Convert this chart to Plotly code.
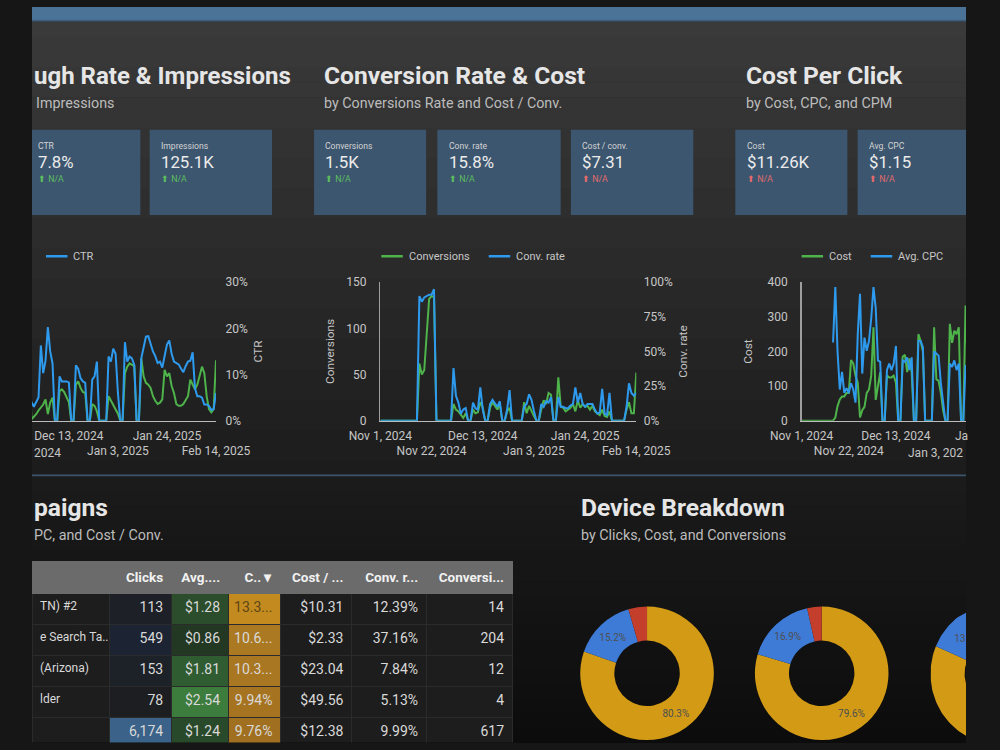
import math
import pandas as pd
import plotly.graph_objects as go

# ---------------- canvas helpers ----------------
W, H = 1000, 750


def fx(p):
    return min(max(p, 0), W) / W


def fy(p):
    return 1 - min(max(p, 0), H) / H


# ---------------- data ----------------
dates = pd.date_range("2024-11-01", "2025-02-14", freq="D")

impressions = [
    0, 0, 0, 0, 0, 0, 0, 0, 0, 0,
    0, 0, 0, 0, 1200, 1800, 2400, 2600, 2500, 3000,
    3200, 3100, 3300, 2900, 2600, 2200, 60, 160, 280, 440,
    560, 700, 920, 280, 780, 1000, 0, 0, 1280, 1360,
    1240, 1000, 800, 0, 0, 1560, 1700, 1420, 1240, 1200,
    0, 0, 720, 640, 400, 0, 0, 0, 0, 1060,
    860, 720, 500, 300, 0, 0, 2060, 2340, 2480, 2420,
    2360, 0, 0, 2700, 1920, 1640, 1560, 1420, 1060, 860,
    720, 780, 920, 2200, 1920, 2060, 1500, 1200, 720, 640,
    640, 720, 920, 1060, 1780, 1560, 1360, 1560, 1920, 2340,
    2060, 1060, 500, 360, 500, 2620,
]

ctr_pct = [
    0, 0, 0, 0, 0, 0, 0, 0, 0, 0,
    0, 0, 0, 0, 3.5, 3.8, 3.2, 3.0, 3.1, 4.5,
    4.6, 4.8, 4.4, 3.2, 3.0, 3.4, 4.0, 3.0, 4.0, 5.0,
    16.3, 10.3, 13.0, 20.3, 15.0, 12.4, 0, 0, 9.6, 8.5,
    8.5, 8.5, 8.3, 0, 0, 12.0, 11.2, 9.2, 8.5, 8.2,
    0, 0, 8.9, 9.6, 12.8, 0, 0, 0, 0, 13.9,
    12.8, 15.6, 14.5, 6.0, 0, 0, 17.0, 12.8, 13.9, 13.5,
    12.1, 0, 0, 13.5, 16.3, 18.2, 18.3, 16.5, 15.0, 14.0,
    12.5, 12.8, 11.5, 14.0, 16.5, 17.4, 14.5, 12.8, 12.5, 12.2,
    11.3, 10.5, 11.8, 12.8, 13.0, 14.8, 7.0, 5.3, 5.3, 5.0,
    3.5, 3.5, 3.2, 2.3, 2.5, 6.0,
]

conversions = [
    0, 0, 0, 0, 0, 0, 0, 0, 0, 0,
    0, 0, 0, 0, 0, 0, 62, 50, 55, 100,
    132, 135, 134, 0, 0, 0, 0, 0, 0, 0,
    18, 12, 10, 6, 3, 8, 0, 0, 12, 8,
    9, 20, 14, 0, 0, 14, 20, 16, 12, 18,
    0, 0, 10, 14, 0, 0, 0, 0, 0, 20,
    8, 16, 10, 5, 0, 0, 12, 22, 18, 30,
    28, 0, 0, 47, 15, 14, 10, 12, 14, 18,
    10, 22, 14, 18, 15, 16, 12, 16, 10, 8,
    6, 12, 5, 4, 10, 0, 0, 0, 0, 0,
    0, 12, 20, 8, 8, 52,
]

conv_rate_pct = [
    0, 0, 0, 0, 0, 0, 0, 0, 0, 0,
    0, 0, 0, 0, 0, 0, 90, 86, 89, 90,
    91, 91, 95, 0, 0, 0, 0, 0, 0, 0,
    38, 18, 13, 5, 8, 9, 0, 0, 13, 9,
    8, 24, 8, 0, 0, 12, 15, 12, 10, 14,
    0, 0, 8, 22, 0, 0, 0, 0, 0, 10,
    12, 19, 15, 7, 0, 0, 12, 10, 14, 13,
    17, 0, 0, 17, 10, 10, 9, 9, 11, 12,
    24, 13, 20, 12, 10, 12, 12, 12, 8, 5,
    6, 23, 5, 4, 20, 0, 0, 0, 0, 0,
    0, 10, 27, 20, 18, 20,
]

cost = [
    0, 0, 0, 0, 0, 0, 0, 0, 0, 0,
    0, 0, 0, 0, 0, 9, 42, 61, 70, 70,
    80, 80, 175, 165, 130, 110, 9, 30, 40, 80,
    90, 130, 270, 60, 100, 140, 0, 0, 130, 125,
    125, 130, 110, 0, 0, 185, 190, 140, 180, 140,
    0, 0, 250, 230, 200, 0, 0, 0, 0, 270,
    120, 115, 80, 30, 0, 0, 280, 225, 260, 250,
    270, 0, 0, 333, 150, 120, 135, 160, 170, 140,
    150, 260, 180, 210, 160, 150, 170, 140, 130, 120,
    90, 200, 80, 70, 180, 60, 50, 40, 45, 55,
    60, 120, 200, 170, 150, 310,
]

avg_cpc = [
    None, None, None, None, None, None, None, None, None, None,
    None, None, None, None, 2.26, 3.86, 2.0, 0.9, 1.41, 0.8,
    0.94, 0.8, 1.08, 0.9, 0.52, 2.5, 3.67, 1.36, 2.4, 2.02,
    2.3, 2.96, 3.86, 3.25, 1.74, 1.70, 0, 0, 1.46, 1.65,
    1.46, 1.65, 2.16, 0, 0, 1.74, 1.70, 1.83, 1.46, 1.83,
    0, 0, 2.3, 2.3, 2.12, 0, 0, 0, 0, 2.0,
    1.95, 1.88, 1.08, 0.5, 0, 0, 1.65, 1.55, 1.74, 1.46,
    1.65, 0, 0, 1.6, 1.5, 1.4, 1.5, 1.6, 1.7, 1.4,
    1.3, 1.6, 1.2, 1.4, 1.3, 1.2, 1.3, 1.1, 1.2, 1.0,
    0.9, 1.5, 0.8, 0.7, 1.1, 0.6, 0.5, 0.5, 0.6, 0.7,
    0.8, 1.0, 1.3, 1.2, 1.1, 1.4,
]

tick_dates = ["2024-11-01", "2024-11-22", "2024-12-13",
              "2025-01-03", "2025-01-24", "2025-02-14"]
tick_text = ["Nov 1, 2024", "<br>Nov 22, 2024", "Dec 13, 2024",
             "<br>Jan 3, 2025", "Jan 24, 2025", "<br>Feb 14, 2025"]

# scorecards
kpi_labels = ["CTR", "Impressions", "Conversions", "Conv. rate",
              "Cost / conv.", "Cost", "Avg. CPC"]
kpi_values = ["7.8%", "125.1K", "1.5K", "15.8%", "$7.31", "$11.26K", "$1.15"]
kpi_delta_good = [True, True, True, True, False, False, False]

# campaign table
table_headers = ["", "Clicks", "Avg....", "C.. \u25be", "Cost / ...",
                 "Conv. r...", "Conversi..."]
campaigns = ["TN) #2", "e Search Ta...", "(Arizona)", "lder", ""]
clicks_tbl = [113, 549, 153, 78, 6174]
avg_cpc_tbl = [1.28, 0.86, 1.81, 2.54, 1.24]
ctr_tbl = [13.34, 10.62, 10.31, 9.94, 9.76]
cost_per_conv_tbl = [10.31, 2.33, 23.04, 49.56, 12.38]
conv_rate_tbl = [12.39, 37.16, 7.84, 5.13, 9.99]
conversions_tbl = [14, 204, 12, 4, 617]

# device breakdown (%)
devices = ["Mobile phones", "Computers", "Tablets"]
device_clicks = [80.3, 15.2, 4.5]
device_cost = [79.6, 16.9, 3.5]
device_conversions = [81.4, 13.6, 5.0]

# ---------------- styling ----------------
GREEN = "#4db34a"
BLUE = "#2e9aee"
TXT = "#c6c6c6"
FONT = "Roboto"
axis_font = dict(size=12, color=TXT, family=FONT)
title_font = dict(size=11.8, color=TXT, family=FONT)
DEV_COLORS = ["#d29a15", "#3e7bd7", "#c43e2c"]
NB = "\u00a0"

fig = go.Figure()

# ---------------- line charts ----------------
line_specs = [
    (impressions, "Impressions", GREEN, "x", "y"),
    ([v / 100 for v in ctr_pct], "CTR", BLUE, "x", "y2"),
    (conversions, "Conversions", GREEN, "x2", "y3"),
    ([v / 100 for v in conv_rate_pct], "Conv. rate", BLUE, "x2", "y4"),
    (cost, "Cost", GREEN, "x3", "y5"),
    (avg_cpc, "Avg. CPC", BLUE, "x3", "y6"),
]
for yv, name, col, xa, ya in line_specs:
    fig.add_trace(go.Scatter(x=dates, y=yv, name=name, mode="lines",
                             line=dict(color=col, width=2), xaxis=xa, yaxis=ya,
                             showlegend=False))

# ---------------- table ----------------
def ctr_fmt(v):
    s = f"{v:.2f}%"
    return s if len(s) <= 5 else f"{v:.1f}" + "..."


cols = [
    [c.replace(" ", NB) for c in campaigns],
    [f"{v:,}" for v in clicks_tbl],
    [f"${v:.2f}" for v in avg_cpc_tbl],
    [ctr_fmt(v) for v in ctr_tbl],
    [f"${v:.2f}" for v in cost_per_conv_tbl],
    [f"{v:.2f}%" for v in conv_rate_tbl],
    [f"{v:,}" for v in conversions_tbl],
]
BASE = "#1d1d1d"
fills = [
    [BASE] * 5,
    ["#1d2026", "#1c2332", "#1d2128", "#1c1e22", "#3b6288"],
    ["#2b4d2c", "#223823", "#2f5c31", "#3c7c3c", "#294a2a"],
    ["#c38b1f", "#ac7923", "#a97622", "#a67321", "#a07020"],
    [BASE] * 5,
    [BASE] * 5,
    [BASE] * 5,
]
cell_txt = "#d9d9d9"
font_colors = [[cell_txt] * 5 for _ in cols]
font_colors[3][0] = "#5e4415"

fig.add_trace(go.Table(
    domain=dict(x=[0, fx(514)], y=[0, fy(565)]),
    columnwidth=[83, 66, 61, 56, 76, 80, 92],
    header=dict(values=[f"<b>{h.replace(' ', NB)}</b>" for h in table_headers],
                fill_color="#6b6b6b", font=dict(color="#f2f2f2", size=13.5, family=FONT),
                align=["left"] + ["right"] * 6, height=28,
                line=dict(color="#6b6b6b", width=1)),
    cells=dict(values=cols, fill_color=fills,
               font=dict(color=font_colors, size=[12, 14, 14, 14, 14, 14, 14], family=FONT),
               align=["left"] + ["right"] * 6, height=31,
               line=dict(color="#2b2b2b", width=1)),
))

# ---------------- donuts ----------------
for vals, x0 in zip([device_clicks, device_cost], [587, 774]):
    fig.add_trace(go.Pie(
        values=vals, labels=devices, hole=0.49, sort=False, direction="clockwise",
        rotation=0, marker=dict(colors=DEV_COLORS, line=dict(width=0)),
        texttemplate=["%{percent:.1%}", "%{percent:.1%}", ""],
        textposition="inside", insidetextorientation="horizontal",
        textfont=dict(size=10, color="#4f4f4f", family=FONT),
        domain=dict(x=[fx(x0), fx(x0 + 143)], y=[0, fy(608)]),
        showlegend=False, hoverinfo="skip"))

# third donut runs past the window edge: ring sectors on a 1px-per-unit axis
R_OUT, R_IN = 71.5, 35.0
tot = sum(device_conversions)
start = 0.0
for val, colr in zip(device_conversions, DEV_COLORS):
    f0, f1 = start / tot, (start + val) / tot
    nstep = max(4, int(180 * (f1 - f0)))
    angs = [2 * math.pi * (f0 + (f1 - f0) * k / nstep) for k in range(nstep + 1)]
    xs = [R_OUT * math.sin(a) for a in angs] + [R_IN * math.sin(a) for a in reversed(angs)]
    ys = [R_OUT * math.cos(a) for a in angs] + [R_IN * math.cos(a) for a in reversed(angs)]
    fig.add_trace(go.Scatter(x=xs + xs[:1], y=ys + ys[:1], mode="lines", fill="toself",
                             fillcolor=colr, line=dict(width=0, color=colr),
                             xaxis="x4", yaxis="y7", showlegend=False, hoverinfo="skip"))
    start += val
fmid = (device_conversions[0] + device_conversions[1] / 2) / tot
fig.add_trace(go.Scatter(x=[47 * math.sin(2 * math.pi * fmid)],
                         y=[47 * math.cos(2 * math.pi * fmid)],
                         mode="text", text=[f"{device_conversions[1] / tot:.1%}"],
                         textfont=dict(size=10, color="#4f4f4f", family=FONT),
                         xaxis="x4", yaxis="y7", cliponaxis=True, showlegend=False,
                         hoverinfo="skip"))

# ---------------- background shapes ----------------
shapes = []


def rect(x0, y0, x1, y1, color):
    shapes.append(dict(type="rect", xref="paper", yref="paper", x0=fx(x0), x1=fx(x1),
                       y0=fy(y1), y1=fy(y0), fillcolor=color, line=dict(width=0),
                       layer="below"))


def lerp(c0, c1, t):
    return "#%02x%02x%02x" % tuple(round(a + (b - a) * t) for a, b in zip(c0, c1))


rect(0, 0, W, 14, "#4b7397")
rect(0, 13, W, 15, "#3e5d7a")
n = 30
for i in range(n):
    y0 = 15 + i * (462 / n)
    rect(0, y0, W, y0 + 462 / n + 0.6, lerp((58, 58, 58), (28, 28, 28), (i + 0.5) / n))
rect(0, 476.5, W, 478.5, "#3a546c")
n = 18
for i in range(n):
    y0 = 478.5 + i * (272 / n)
    rect(0, y0, W, y0 + 272 / n + 0.6, lerp((27, 27, 27), (12, 12, 12), (i + 0.5) / n))

card_x0 = [0, 126, 302, 434, 577, 753, 884]
card_x1 = [116, 257, 422, 566, 708, 873, 1000]
for a, b in zip(card_x0, card_x1):
    rect(a, 125, b, 212, "#3c566f")

# ---------------- annotations ----------------
annotations = []


def text(s, x, y, size, color, anchor="left", bold=False):
    annotations.append(dict(text=f"<b>{s}</b>" if bold else s, x=fx(x), y=fy(y),
                            xref="paper", yref="paper", xanchor=anchor, yanchor="middle",
                            showarrow=False, font=dict(size=size, color=color, family=FONT)))


TITLE_C = "#e6e6e6"
SUB_C = "#bcbcbc"
T_SIZE, S_SIZE = 24.6, 14.3
# texts cut by the window edges are kept as their visible part
text("ugh Rate &amp; Impressions", 0, 70, 24, TITLE_C, "left", True)
text("Impressions", 90, 98, S_SIZE, SUB_C, "right")
text("Conversion Rate &amp; Cost", 311, 70, T_SIZE, TITLE_C, "left", True)
text("by Conversions Rate and Cost / Conv.", 311, 98, S_SIZE, SUB_C)
text("Cost Per Click", 762, 70, T_SIZE, TITLE_C, "left", True)
text("by Cost, CPC, and CPM", 762, 98, S_SIZE, SUB_C)
text("paigns", 0, 510, T_SIZE, TITLE_C, "left", True)
text("PC, and Cost / Conv.", 0, 538, S_SIZE, SUB_C)
text("Device Breakdown", 586, 510, T_SIZE, TITLE_C, "left", True)
text("by Clicks, Cost, and Conversions", 586, 538, S_SIZE, SUB_C)

card_tx = [4, 136, 312, 444, 587, 763, 894]
for tx, lab, val, good in zip(card_tx, kpi_labels, kpi_values, kpi_delta_good):
    text(lab, tx, 142, 8.6, "#d4d4d4")
    text(val, tx, 158, 16.8, "#ececec")
    text("\u2b06 N/A", tx, 175, 8.8, "#5cbf5e" if good else "#e26b6b")

# chart legends (line swatch + name)
legend_items = [(15, "CTR", BLUE),
                (374, "Conversions", GREEN), (489, "Conv. rate", BLUE),
                (824, "Cost", GREEN), (898, "Avg. CPC", BLUE)]
for lx, name, col in legend_items:
    shapes.append(dict(type="line", xref="paper", yref="paper", x0=fx(lx), x1=fx(lx + 23),
                       y0=fy(254), y1=fy(254), line=dict(color=col, width=2.5)))
    text(name, lx + 27, 254, 11, TXT)

# visible parts of date labels cut by the window edges
text("2024", 0, 454, 12, TXT, "left")
text("Ja", 986, 437, 12, TXT, "left")
text("Jan 3, 202", 999, 454, 12, TXT, "right")

# ---------------- axes ----------------
y_dom = [fy(421.5), fy(280.5)]

# axes whose labels lie outside the window: no labels, no line
BARE = dict(showticklabels=False, showline=False, showgrid=False, zeroline=False,
            ticks="", fixedrange=True)


def xax(domain, rng, anchor, nticks=6):
    return dict(domain=domain, range=rng, anchor=anchor, type="date", tickmode="array",
                tickvals=tick_dates[:nticks], ticktext=tick_text[:nticks], tickangle=0,
                showgrid=False, zeroline=False, showline=True, linecolor="#bdbdbd",
                linewidth=1.5, ticks="outside", ticklen=3, tickcolor="rgba(0,0,0,0)",
                tickfont=axis_font, ticklabeloverflow="allow", fixedrange=True)


def yax(**kw):
    d = dict(showgrid=False, zeroline=False, ticks="outside", ticklen=8,
             tickcolor="rgba(0,0,0,0)", tickfont=axis_font, fixedrange=True)
    d.update(kw)
    return d


fig.update_layout(
    width=W, height=H, autosize=False,
    margin=dict(l=0, r=0, t=0, b=0, pad=0),
    paper_bgcolor="#161616", plot_bgcolor="rgba(0,0,0,0)",
    font=dict(family=FONT, color=TXT),
    hovermode=False, showlegend=False, dragmode=False,
    shapes=shapes, annotations=annotations,
    xaxis=xax([0, fx(197)], ["2024-11-27 05:00", "2025-02-14"], "y"),
    xaxis2=xax([fx(373), fx(647)], ["2024-11-01", "2025-02-14"], "y3"),
    # the right chart continues past the window edge; its labels there are cut
    xaxis3=xax([fx(824), 1.0], ["2024-11-01", "2025-01-13 04:48"], "y5", nticks=3),
    xaxis4=dict(domain=[fx(962), 1.0], range=[-R_OUT, -33.5], anchor="y7", **BARE),
    yaxis=dict(domain=y_dom, anchor="x", range=[0, 6000], **BARE),
    yaxis2=yax(overlaying="y", anchor="x", side="right", range=[0, 0.3],
               tickvals=[0, 0.1, 0.2, 0.3], tickformat=".0%", ticklen=6,
               title=dict(text="CTR", font=title_font, standoff=6)),
    yaxis3=yax(domain=y_dom, anchor="x2", range=[0, 150], tickvals=[0, 50, 100, 150],
               showline=True, linecolor="#9e9e9e", linewidth=1.5, ticklen=10,
               title=dict(text="Conversions", font=title_font, standoff=9)),
    yaxis4=yax(overlaying="y3", anchor="x2", side="right", range=[0, 1],
               tickvals=[0, 0.25, 0.5, 0.75, 1], tickformat=".0%", ticklen=4,
               title=dict(text="Conv. rate", font=title_font, standoff=6)),
    yaxis5=yax(domain=y_dom, anchor="x3", range=[0, 400], tickvals=[0, 100, 200, 300, 400],
               showline=True, linecolor="#9e9e9e", linewidth=1.5, ticklen=10,
               title=dict(text="Cost", font=title_font, standoff=12)),
    yaxis6=dict(overlaying="y5", anchor="x3", side="right", range=[0, 4], **BARE),
    yaxis7=dict(domain=[0, fy(608)], range=[-70.5, 71.5], anchor="x4", **BARE),
)

fig.write_html("out.html", config={"staticPlot": True})
